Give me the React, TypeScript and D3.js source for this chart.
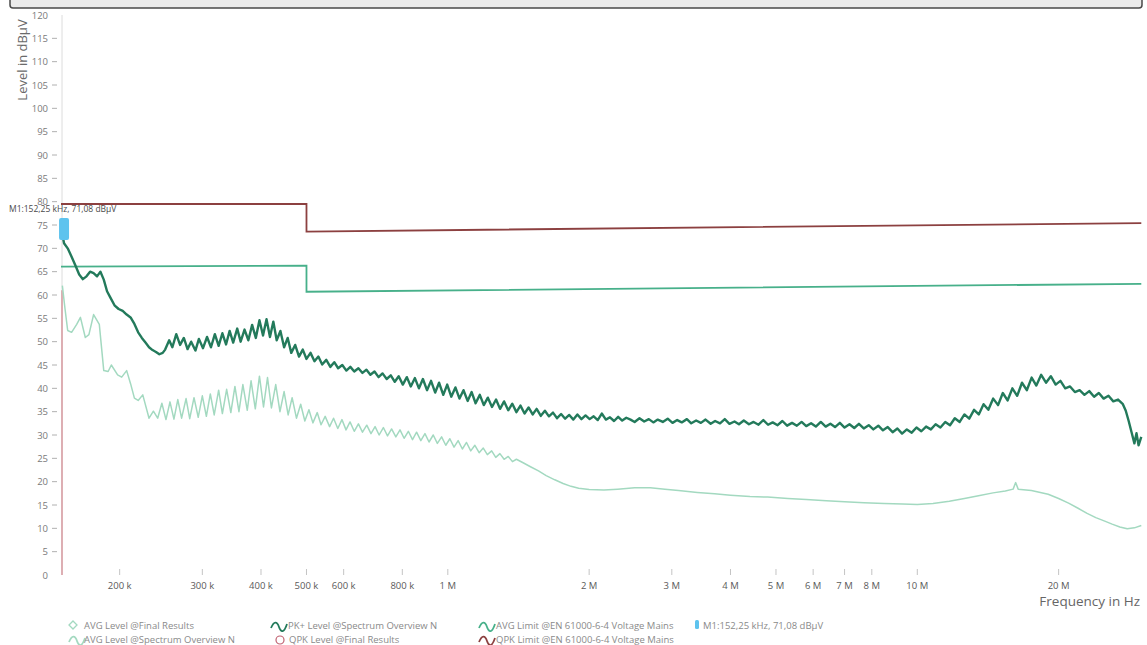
import React from 'react';
import * as d3 from 'd3';

type Pt = [number, number]; // [frequency kHz, level dBµV]

const yTickValues = [0, 5, 10, 15, 20, 25, 30, 35, 40, 45, 50, 55, 60, 65, 70, 75, 80, 85, 90, 95, 100, 105, 110, 115, 120];
const xTickValues = [200e3, 300e3, 400e3, 500e3, 600e3, 800e3, 1e6, 2e6, 3e6, 4e6, 5e6, 6e6, 7e6, 8e6, 10e6, 20e6];
const xTickLabels = ['200 k', '300 k', '400 k', '500 k', '600 k', '800 k', '1 M', '2 M', '3 M', '4 M', '5 M', '6 M', '7 M', '8 M', '10 M', '20 M'];

const qpkLimit: Pt[] = [[150, 79.5], [500, 79.5], [500, 73.6], [30000, 75.4]];
const avgLimit: Pt[] = [[150, 66.1], [500, 66.3], [500, 60.7], [30000, 62.4]];

const marker = { freqKHz: 152.25, level: 71.08, label: 'M1:152,25 kHz, 71,08 dBµV' };

const pkTrace: Pt[] = [
  [151, 73.0], [152.25, 71.1], [155, 70.0], [158, 68.2], [161, 66.3], [164, 64.4], [167, 63.4], [170, 64.0], [173, 65.0],
  [176, 64.7], [179, 64.0], [182, 65.0], [185, 63.3], [188, 60.8], [191, 59.5], [195, 57.8], [199, 57.0], [203, 56.6],
  [207, 55.8], [211, 55.2], [215, 53.8], [219, 52.0], [223, 50.8], [227, 49.8], [231, 48.8], [235, 48.2], [239, 47.8],
  [243, 47.3], [247, 47.6], [250, 48.3], [255, 50.3], [259, 48.8], [264, 51.6], [269, 49.3], [274, 50.8], [279, 48.4],
  [284, 50.0], [290, 48.1], [295, 50.6], [301, 48.6], [307, 51.0], [313, 48.8], [319, 51.6], [325, 49.1], [331, 51.8],
  [337, 49.4], [343, 52.3], [349, 49.8], [356, 52.8], [362, 50.0], [369, 52.6], [376, 50.3], [383, 53.6], [390, 50.8],
  [397, 54.6], [404, 51.3], [411, 54.8], [418, 51.0], [425, 54.3], [432, 50.3], [440, 52.3], [448, 48.8], [456, 50.8],
  [464, 47.6], [473, 49.3], [482, 46.8], [491, 48.3], [500, 46.3], [510, 47.6], [520, 45.8], [530, 46.8], [540, 45.1],
  [551, 46.1], [562, 44.6], [573, 45.6], [584, 44.3], [596, 45.0], [608, 43.8], [620, 44.6], [632, 43.6], [645, 44.3],
  [658, 43.3], [671, 44.0], [684, 42.9], [698, 43.6], [712, 42.4], [726, 43.2], [741, 42.0], [756, 42.8], [771, 41.4],
  [786, 42.6], [802, 40.8], [818, 42.4], [834, 40.4], [851, 42.2], [868, 40.0], [885, 42.0], [903, 39.6], [921, 41.6],
  [940, 39.1], [958, 41.2], [978, 38.6], [997, 40.8], [1017, 38.2], [1038, 40.2], [1059, 37.8], [1080, 39.6], [1102, 37.3],
  [1124, 39.2], [1146, 36.8], [1170, 38.6], [1193, 36.4], [1217, 38.0], [1242, 36.0], [1267, 37.6], [1292, 35.6],
  [1318, 37.2], [1345, 35.3], [1372, 36.7], [1400, 34.9], [1428, 36.3], [1457, 34.6], [1486, 35.9], [1516, 34.4],
  [1546, 35.6], [1578, 34.1], [1610, 35.2], [1642, 34.0], [1675, 34.8], [1709, 33.6], [1743, 34.5], [1778, 33.5],
  [1814, 34.3], [1851, 33.3], [1888, 34.4], [1926, 33.4], [1965, 34.2], [2005, 33.4], [2045, 34.0], [2086, 33.2],
  [2128, 34.6], [2171, 33.3], [2215, 33.8], [2260, 33.0], [2306, 33.9], [2352, 33.1], [2400, 33.7], [2450, 33.3],
  [2500, 32.8], [2560, 33.6], [2620, 32.9], [2680, 33.4], [2740, 32.7], [2800, 33.3], [2870, 32.8], [2940, 33.5],
  [3010, 32.6], [3080, 33.2], [3150, 32.7], [3230, 33.4], [3300, 32.5], [3380, 33.1], [3460, 32.6], [3540, 33.3],
  [3630, 32.4], [3710, 33.0], [3800, 32.5], [3890, 33.4], [3980, 32.4], [4080, 32.9], [4170, 32.3], [4270, 33.1],
  [4380, 32.3], [4480, 32.8], [4590, 32.2], [4700, 33.2], [4810, 32.2], [4920, 32.7], [5040, 32.1], [5160, 33.0],
  [5280, 32.0], [5410, 32.6], [5540, 32.0], [5670, 32.8], [5800, 31.9], [5940, 32.5], [6080, 31.8], [6230, 32.8],
  [6380, 31.8], [6530, 32.4], [6680, 31.7], [6840, 32.6], [7000, 31.6], [7170, 32.3], [7340, 31.5], [7510, 32.4],
  [7690, 31.4], [7880, 32.1], [8060, 31.2], [8260, 32.0], [8450, 31.0], [8650, 31.7], [8860, 30.6], [9070, 31.4],
  [9280, 30.3], [9500, 31.2], [9730, 30.5], [9960, 31.6], [10200, 30.8], [10440, 31.8], [10690, 31.2], [10940, 32.3],
  [11200, 31.6], [11470, 32.8], [11740, 32.1], [12020, 33.6], [12310, 32.8], [12600, 34.4], [12900, 33.5], [13210, 35.4],
  [13520, 34.4], [13840, 36.6], [14170, 35.4], [14510, 37.8], [14860, 36.4], [15210, 39.0], [15570, 37.4], [15940, 40.0],
  [16320, 38.4], [16710, 41.2], [17110, 39.6], [17520, 42.3], [17930, 40.6], [18360, 42.9], [18800, 41.2], [19250, 42.6],
  [19710, 40.8], [20180, 41.6], [20660, 40.0], [21150, 40.4], [21660, 39.2], [22170, 39.6], [22700, 38.6], [23240, 39.4],
  [23800, 38.2], [24360, 39.0], [24940, 37.8], [25540, 38.4], [26150, 37.2], [26770, 37.6], [27410, 36.6], [27800, 35.2],
  [28200, 33.0], [28600, 30.6], [29000, 28.2], [29300, 30.4], [29600, 27.8], [30000, 29.6],
];

const avgTrace: Pt[] = [
  [151, 62.0], [153, 57.0], [155, 52.4], [158, 52.0], [162, 53.7], [165, 55.2], [169, 50.9], [172, 51.5], [176, 55.8],
  [181, 53.7], [185, 43.8], [189, 43.6], [192, 45.0], [198, 42.9], [202, 42.4], [207, 43.8], [211, 41.0], [215, 37.9],
  [219, 37.4], [224, 38.6], [231, 33.6], [236, 35.1], [241, 33.6], [246, 36.8], [251, 33.3], [256, 37.1], [261, 33.4],
  [266, 37.6], [271, 33.6], [277, 37.8], [282, 33.5], [288, 38.0], [294, 33.8], [300, 38.4], [306, 34.0], [312, 38.8],
  [318, 34.3], [325, 39.6], [331, 34.6], [338, 39.8], [345, 34.8], [352, 40.4], [359, 35.0], [366, 40.8], [374, 35.3],
  [381, 41.6], [389, 35.6], [397, 42.6], [405, 36.0], [413, 42.3], [421, 35.8], [430, 40.8], [439, 35.0], [448, 39.3],
  [457, 34.3], [466, 38.0], [476, 33.6], [486, 36.6], [496, 33.0], [506, 35.4], [516, 32.6], [527, 34.8], [537, 32.2],
  [548, 34.0], [560, 31.8], [571, 33.6], [583, 31.4], [595, 33.3], [607, 31.1], [619, 32.8], [632, 30.8], [645, 32.4],
  [658, 30.6], [672, 32.1], [686, 30.3], [700, 31.8], [714, 30.0], [729, 31.6], [744, 29.8], [759, 31.3], [775, 29.6],
  [791, 31.1], [807, 29.3], [824, 30.8], [841, 29.0], [858, 30.6], [876, 28.8], [894, 30.3], [912, 28.5], [931, 30.0],
  [950, 28.2], [970, 29.6], [990, 27.8], [1010, 29.2], [1031, 27.4], [1052, 28.8], [1074, 27.0], [1096, 28.4],
  [1119, 26.6], [1142, 27.8], [1166, 26.2], [1190, 27.2], [1214, 25.8], [1240, 26.6], [1265, 25.2], [1291, 26.0],
  [1318, 24.8], [1345, 25.4], [1373, 24.3], [1400, 24.8], [1450, 24.0], [1500, 23.2], [1560, 22.3], [1620, 21.3],
  [1690, 20.4], [1760, 19.6], [1830, 19.0], [1900, 18.6], [2000, 18.3], [2150, 18.2], [2300, 18.4], [2500, 18.7],
  [2700, 18.7], [2900, 18.4], [3100, 18.1], [3400, 17.7], [3700, 17.4], [4000, 17.1], [4400, 16.8], [4800, 16.7],
  [5300, 16.4], [5800, 16.2], [6400, 15.9], [7000, 15.7], [7700, 15.5], [8500, 15.3], [9300, 15.2], [10000, 15.1],
  [10800, 15.3], [11700, 15.8], [12600, 16.4], [13500, 17.0], [14500, 17.6], [15400, 18.0], [16000, 18.4], [16200, 19.8],
  [16400, 18.4], [17500, 18.1], [19000, 17.3], [20000, 16.4], [21000, 15.4], [22000, 14.3], [23000, 13.2], [24000, 12.3],
  [25000, 11.6], [26000, 10.9], [27000, 10.3], [28000, 9.9], [29000, 10.1], [30000, 10.6],
];

const legendRow1 = ['AVG Level @Final Results', 'PK+ Level @Spectrum Overview N', 'AVG Limit @EN 61000-6-4 Voltage Mains', 'M1:152,25 kHz, 71,08 dBµV'];
const legendRow2 = ['AVG Level @Spectrum Overview N', 'QPK Level @Final Results', 'QPK Limit @EN 61000-6-4 Voltage Mains'];

const C = {
  pk: '#237a5b',
  avg: '#a3d9c0',
  avgLimit: '#47b08a',
  qpkLimit: '#8c4040',
  marker: '#5ec3ee',
  axisText: '#7a7a7a',
  legendText: '#8a8a8a',
};

const FONT = '"Open Sans", "Noto Sans", sans-serif';

function Wave({ x, y, color }: { x: number; y: number; color: string }) {
  return (
    <path
      d={`M${x},${y + 1} C${x + 3},${y - 6} ${x + 6},${y - 6} ${x + 8},${y} S${x + 13},${y + 6} ${x + 16},${y - 3}`}
      fill="none"
      stroke={color}
      strokeWidth={1.8}
    />
  );
}

export default function App() {
  const W = 1147;
  const H = 645;
  const x = d3.scaleLog().domain([150e3, 30e6]).range([61, 1141.3]);
  const y = d3.scaleLinear().domain([0, 120]).range([575, 15]);
  const line = d3
    .line<Pt>()
    .x((d) => x(d[0] * 1e3))
    .y((d) => y(d[1]));

  const mx = x(marker.freqKHz * 1e3);

  return (
    <svg width={W} height={H} style={{ position: 'absolute', left: 0, top: 0, background: '#fff' }} fontFamily={FONT}>
      <rect x={0} y={0} width={W} height={H} fill="#fff" />
      {/* title bar remnant */}
      <rect x={10} y={-12} width={1132} height={20} rx={3} fill="#ebebeb" stroke="#4a4a4a" strokeWidth={1.5} />

      {/* y axis label */}
      <text transform={`translate(27,${60}) rotate(-90)`} textAnchor="middle" fontSize={13} fill="#6a6a6a">
        Level in dBµV
      </text>

      {/* y ticks */}
      {yTickValues.map((v) => (
        <g key={v}>
          <text x={48} y={y(v) + 3.5} textAnchor="end" fontSize={9.5} fill={C.axisText}>
            {v}
          </text>
          {v !== 120 && v !== 0 && <line x1={52} x2={57} y1={y(v)} y2={y(v)} stroke="#b0b0b0" strokeWidth={1} />}
        </g>
      ))}

      {/* axis line */}
      <line x1={62} x2={62} y1={y(120)} y2={y(0)} stroke="#dcdcdc" strokeWidth={1} />
      <line x1={62} x2={62} y1={y(61)} y2={y(0)} stroke="#d48d94" strokeWidth={1.3} />

      {/* x ticks */}
      {xTickValues.map((v, i) => (
        <g key={v}>
          <line x1={x(v)} x2={x(v)} y1={569} y2={575} stroke="#c4c4c4" strokeWidth={1} />
          <text x={x(v)} y={589} textAnchor="middle" fontSize={9.5} fill="#5a5a5a">
            {xTickLabels[i]}
          </text>
        </g>
      ))}
      <text x={1140} y={606} textAnchor="end" fontSize={13.5} fill="#666">
        Frequency in Hz
      </text>

      {/* limits */}
      <path d={line(qpkLimit) || ''} fill="none" stroke={C.qpkLimit} strokeWidth={1.8} />
      <path d={line(avgLimit) || ''} fill="none" stroke={C.avgLimit} strokeWidth={1.8} />

      {/* traces */}
      <path d={line(avgTrace) || ''} fill="none" stroke={C.avg} strokeWidth={1.5} strokeLinejoin="round" />
      <path d={line(pkTrace) || ''} fill="none" stroke={C.pk} strokeWidth={2.4} strokeLinejoin="round" />

      {/* marker */}
      <rect x={mx - 5} y={y(76.5)} width={10} height={y(71.8) - y(76.5)} rx={2} fill={C.marker} />
      <text x={9} y={212} fontSize={8.5} fill="#4a4a4a">
        {marker.label}
      </text>

      {/* legend */}
      <g fontSize={9.5} fill={C.legendText}>
        <path d="M73,621 l4,4 l-4,4 l-4,-4 z" fill="none" stroke={C.avg} strokeWidth={1.3} />
        <text x={84} y={629}>{legendRow1[0]}</text>
        <Wave x={69} y={641} color={C.avg} />
        <text x={84} y={643}>{legendRow2[0]}</text>

        <Wave x={271} y={627} color={C.pk} />
        <text x={288} y={629}>{legendRow1[1]}</text>
        <circle cx={280} cy={640} r={4} fill="none" stroke="#c06070" strokeWidth={1.2} />
        <text x={289} y={643}>{legendRow2[1]}</text>

        <Wave x={479} y={627} color={C.avgLimit} />
        <text x={496} y={629}>{legendRow1[2]}</text>
        <Wave x={479} y={641} color={C.qpkLimit} />
        <text x={496} y={643}>{legendRow2[2]}</text>

        <rect x={695} y={620} width={4} height={9} rx={1.5} fill={C.marker} />
        <text x={703} y={629}>{legendRow1[3]}</text>
      </g>
    </svg>
  );
}
